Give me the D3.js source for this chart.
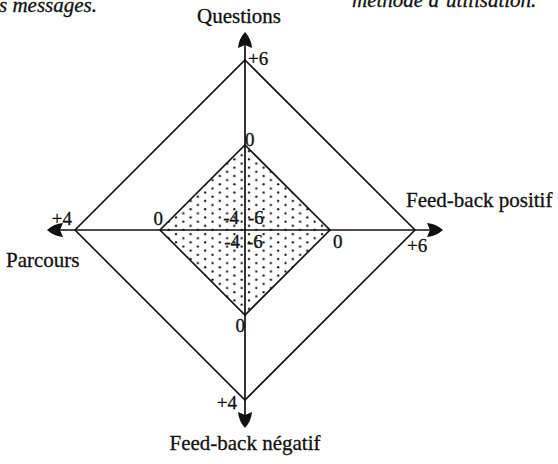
<!DOCTYPE html>
<html>
<head>
<meta charset="utf-8">
<script src="https://cdn.jsdelivr.net/npm/d3@7"></script>
<style>
  body { margin: 0; background: #fff; }
  svg { display: block; }
  text { font-family: "Liberation Serif", "Times New Roman", serif; fill: #111; stroke: #111; stroke-width: 0.3px; }
</style>
</head>
<body>
<div class="chart"></div>
<script>
// axes of the diagram, clockwise from the top
let axisNames = ['Questions', 'Feed-back positif', 'Feed-back négatif', 'Parcours'];
let axisMin = [-6, -6, -4, -4];
let axisMax = [6, 6, 4, 4];
let innerValues = [0, 0, 0, 0];
let maxLabels = ['+6', '+6', '+4', '+4'];
let zeroLabels = ['0', '0', '0', '0'];
let centerLabels = ['-4', '-6', '-4', '-6'];

let width = 558, height = 464;
let cx = 245, cy = 230, R = 170;

// unit direction per axis: up, right, down, left
let dirs = [[0, -1], [1, 0], [0, 1], [-1, 0]];

let scales = axisNames.map((d, i) => d3.scaleLinear().domain([axisMin[i], axisMax[i]]).range([0, R]));

function pt(i, v) {
    let r = scales[i](v);
    return [cx + dirs[i][0] * r, cy + dirs[i][1] * r];
}

let svg = d3.select('.chart').append('svg')
    .attr('width', width)
    .attr('height', height);

// dotted fill for the inner diamond (staggered dots)
let defs = svg.append('defs');
let pat = defs.append('pattern')
    .attr('id', 'dots')
    .attr('patternUnits', 'userSpaceOnUse')
    .attr('x', cx + 1).attr('y', cy + 2)
    .attr('width', 14.6)
    .attr('height', 8.3);
pat.append('circle').attr('cx', 3).attr('cy', 2).attr('r', 1.15).attr('fill', '#111');
pat.append('circle').attr('cx', 10.3).attr('cy', 6.15).attr('r', 1.15).attr('fill', '#111');

let line = d3.line().curve(d3.curveLinearClosed);

// inner diamond (values at 0)
svg.append('path')
    .attr('d', line(innerValues.map((v, i) => pt(i, v))))
    .attr('fill', 'url(#dots)')
    .attr('stroke', '#111')
    .attr('stroke-width', 1.6);

// outer diamond (max values)
svg.append('path')
    .attr('d', line(axisMax.map((v, i) => pt(i, v))))
    .attr('fill', 'none')
    .attr('stroke', '#111')
    .attr('stroke-width', 1.6);

// axes with arrowheads
let tipR = R + 28, headLen = 16, headW = 7;
axisNames.forEach((name, i) => {
    let [dx, dy] = dirs[i];
    svg.append('line')
        .attr('x1', cx).attr('y1', cy)
        .attr('x2', cx + dx * (tipR - 4)).attr('y2', cy + dy * (tipR - 4))
        .attr('stroke', '#111')
        .attr('stroke-width', 1.7);
    let tx = cx + dx * tipR, ty = cy + dy * tipR;
    let bx = tx - dx * headLen, by = ty - dy * headLen;
    let nx = bx + dx * 3, ny = by + dy * 3;
    let px = -dy, py = dx;
    let p = d3.path();
    p.moveTo(tx, ty);
    p.quadraticCurveTo(tx - dx * 7 + px * headW * 0.9, ty - dy * 7 + py * headW * 0.9, bx + px * headW, by + py * headW);
    p.lineTo(nx, ny);
    p.lineTo(bx - px * headW, by - py * headW);
    p.quadraticCurveTo(tx - dx * 7 - px * headW * 0.9, ty - dy * 7 - py * headW * 0.9, tx, ty);
    p.closePath();
    svg.append('path').attr('d', p.toString()).attr('fill', '#111');
});

// axis names
let nameOffsets = [[-6, -207], [-9, -23], [0, 220], [-69, 37]];
let nameAnchor = ['middle', 'start', 'middle', 'start'];
axisNames.forEach((name, i) => {
    let base = i % 2 === 0 ? [cx, cy] : pt(i, axisMax[i]);
    let o = nameOffsets[i];
    svg.append('text')
        .attr('x', base[0] + o[0])
        .attr('y', base[1] + o[1])
        .attr('text-anchor', nameAnchor[i])
        .style('font-size', '21px')
        .text(name);
});

// value labels
let maxOff = [[3, 5, 'start'], [-8, 22, 'start'], [-8, 9, 'end'], [-3, -5, 'end']];
let zeroOff = [[0, 1, 'start'], [3, 18, 'start'], [0, 17, 'end'], [3, -5, 'end']];
maxLabels.forEach((t, i) => {
    let p = pt(i, axisMax[i]);
    svg.append('text')
        .attr('x', p[0] + maxOff[i][0]).attr('y', p[1] + maxOff[i][1])
        .attr('text-anchor', maxOff[i][2])
        .style('font-size', '19px')
        .text(t);
});
zeroLabels.forEach((t, i) => {
    let p = pt(i, innerValues[i]);
    svg.append('text')
        .attr('x', p[0] + zeroOff[i][0]).attr('y', p[1] + zeroOff[i][1])
        .attr('text-anchor', zeroOff[i][2])
        .style('font-size', '19px')
        .text(t);
});

// min labels around the centre
let centerOff = [[-6, -6, 'end'], [3, -6, 'start'], [-5, 18, 'end'], [2, 18, 'start']];
centerLabels.forEach((t, i) => {
    svg.append('text')
        .attr('x', cx + centerOff[i][0]).attr('y', cy + centerOff[i][1])
        .attr('text-anchor', centerOff[i][2])
        .style('font-size', '19px')
        .text(t);
});

// caption fragments from the surrounding page
svg.append('text')
    .attr('x', -1).attr('y', 12)
    .style('font-size', '21px').style('font-style', 'italic')
    .text('s messages.');
svg.append('text')
    .attr('x', 352).attr('y', 7)
    .style('font-size', '21px').style('font-style', 'italic')
    .text('méthode d\u2019utilisation.');
</script>
</body>
</html>
